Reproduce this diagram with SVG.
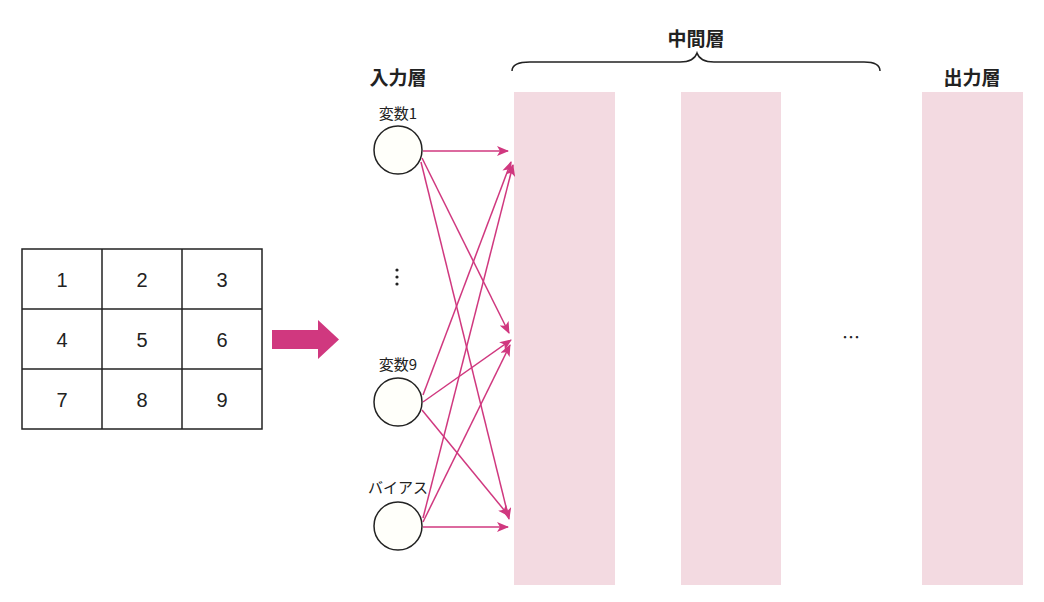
<svg xmlns="http://www.w3.org/2000/svg" width="1044" height="602" viewBox="0 0 1044 602">
<style>
text{font-family:"Noto Sans CJK JP","Liberation Sans",sans-serif;fill:#222}
.cell{fill:#fff;stroke:#222;stroke-width:1.5}
.num{font-size:20px;text-anchor:middle;font-family:"Liberation Sans","Noto Sans CJK JP",sans-serif}
.layer{fill:#f3dae1}
.title{font-size:19px;font-weight:bold;text-anchor:middle}
.lbl{font-size:15px;text-anchor:middle}
.node{fill:#fffffa;stroke:#222;stroke-width:1.5}
.con line{stroke:#d0387f;stroke-width:1.5;marker-end:url(#ah)}
</style>
<defs>
<marker id="ah" markerWidth="12" markerHeight="10" refX="11" refY="5" orient="auto" markerUnits="userSpaceOnUse">
<path d="M0,0 L12,5 L0,10 L3,5 Z" fill="#d0387f"/>
</marker>
</defs>
<g id="grid">
<rect class="cell" x="22" y="249" width="240" height="180"/>
<line x1="102" y1="249" x2="102" y2="429" stroke="#222" stroke-width="1.5"/>
<line x1="182" y1="249" x2="182" y2="429" stroke="#222" stroke-width="1.5"/>
<line x1="22" y1="309" x2="262" y2="309" stroke="#222" stroke-width="1.5"/>
<line x1="22" y1="369" x2="262" y2="369" stroke="#222" stroke-width="1.5"/>
<text class="num" x="62" y="287">1</text><text class="num" x="142" y="287">2</text><text class="num" x="222" y="287">3</text>
<text class="num" x="62" y="347">4</text><text class="num" x="142" y="347">5</text><text class="num" x="222" y="347">6</text>
<text class="num" x="62" y="407">7</text><text class="num" x="142" y="407">8</text><text class="num" x="222" y="407">9</text>
</g>
<g id="bigArrow"><path d="M272,330 H318 V320 L339,339.5 L318,359 V349 H272 Z" fill="#d0387f"/></g>
<g id="layers">
<rect class="layer" x="514" y="92" width="101" height="493"/>
<rect class="layer" x="681" y="92" width="100" height="493"/>
<rect class="layer" x="922" y="92" width="101" height="493"/>
<text class="title" x="398" y="85">入力層</text>
<text class="title" x="696" y="46">中間層</text>
<text class="title" x="972" y="85">出力層</text>
<path d="M512,71 Q512,62 530,62 H680 Q694,62 697,53 Q700,62 714,62 H864 Q880,62 880,71" fill="none" stroke="#222" stroke-width="1.5"/>
<text x="851" y="344" font-size="18" text-anchor="middle">…</text>
</g>
<g id="n1"><text class="lbl" x="398" y="119">変数1</text><circle class="node" cx="398" cy="150" r="24"/></g>
<g id="dots"><circle cx="397" cy="270" r="1.6" fill="#222"/><circle cx="397" cy="277" r="1.6" fill="#222"/><circle cx="397" cy="284" r="1.6" fill="#222"/></g>
<g id="n9"><text class="lbl" x="398" y="370">変数9</text><circle class="node" cx="398" cy="402" r="24"/></g>
<g id="nb"><text class="lbl" x="398" y="493">バイアス</text><circle class="node" cx="398" cy="526" r="24"/></g>
<g class="con" id="connectors">
<line x1="423" y1="151" x2="508" y2="151"/>
<line x1="422" y1="158" x2="509" y2="333"/>
<line x1="421" y1="162" x2="509" y2="519"/>
<line x1="423" y1="395" x2="511" y2="162"/>
<line x1="423" y1="402" x2="511" y2="340"/>
<line x1="422" y1="410" x2="509" y2="516"/>
<line x1="423" y1="518" x2="513" y2="165"/>
<line x1="423" y1="522" x2="510" y2="345"/>
<line x1="423" y1="527" x2="508" y2="527"/>
</g>
</svg>
